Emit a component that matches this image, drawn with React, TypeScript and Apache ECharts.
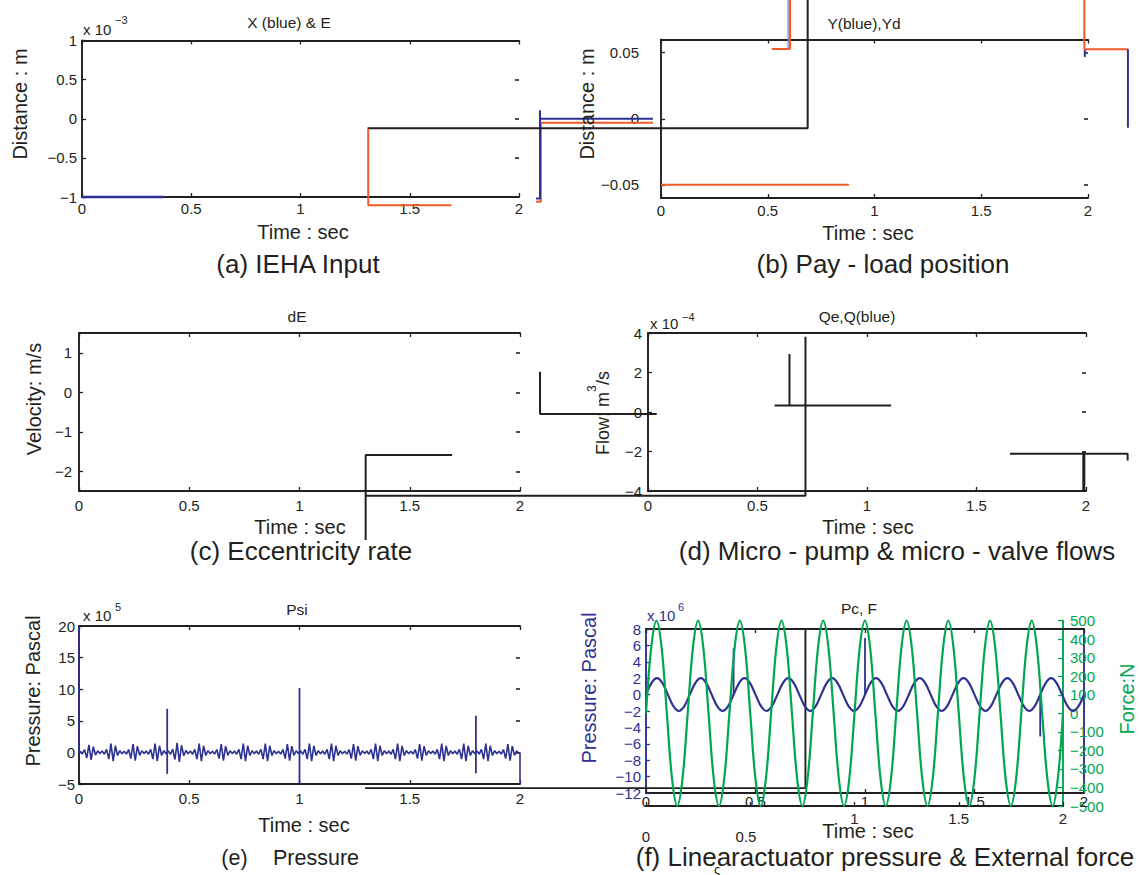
import React, { useEffect, useRef } from 'react';
import * as echarts from 'echarts';

const BLACK = '#231F20';
const BLUE = '#2E3192';
const ORANGE = '#F15A29';
const GREEN = '#00A651';
const FONT = '"Liberation Sans", Arial, Helvetica, sans-serif';

// ---------- (a) IEHA Input  (x 10^-3 m) ----------
const aBlue = [[0, -1], [0.375, -1]];
const aBlueRight = [[2.078, -1.02], [2.096, -1.02], [2.096, 0.11], [2.096, 0], [2.613, 0]];
const aOrange = [[1.31, -0.11], [1.31, -1.105], [1.69, -1.105]];
const aOrangeRight = [[2.078, -1.06], [2.1, -1.06], [2.1, -0.05], [2.613, -0.05]];

// ---------- (b) Pay-load position (m) ----------
const bBlackStep = [[-1.371, -0.0072], [0.687, -0.0072], [0.687, 0.09]];
const bOrangeTop = [[0.519, 0.0528], [0.604, 0.0528], [0.604, 0.09]];
const bBlueTop = [[0.595, 0.0528], [0.595, 0.09]];
const bOrangeLow = [[0, -0.05], [0.88, -0.05]];
const bOrangeRight = [[1.983, 0.09], [1.983, 0.0526], [2.187, 0.0526]];
const bBlueRight = [[2.187, 0.0526], [2.187, -0.0068]];
const bBlueMark = [[1.985, 0.052], [1.985, 0.0468]];
const bTicks = [-0.05, 0, 0.05];

// ---------- (c) Eccentricity rate (m/s) ----------
const cDE = [[1.3, -3.74], [1.3, -1.59], [1.692, -1.59]];
const cTicks = [-2, -1, 0, 1];

// ---------- (d) flows (x 10^-4 m^3/s) ----------
const dLong = [[-1.289, -4.24], [0.719, -4.24], [0.719, 3.81]];
const dMid = [[0.578, 0.33], [0.646, 0.33], [0.646, 2.94], [0.646, 0.33], [1.11, 0.33]];
const dLeft = [[-0.493, 2.04], [-0.493, -0.1], [0.04, -0.1]];
const dRight = [[1.653, -2.12], [2.19, -2.12], [2.19, -2.46]];
const dEnd = [[1.99, -2.0], [1.99, -4.0]];

// ---------- (e) Pressure Psi (x 10^5 Pa) ----------
const psiBurstCenters = [0.05, 0.15, 0.25, 0.35, 0.45, 0.55, 0.65, 0.75, 0.85, 0.95, 1.05, 1.15, 1.25, 1.35, 1.45, 1.55, 1.65, 1.75, 1.85, 1.95];
const psiBurstAmps = [1.2, 1.4, 1.3, 1.4, 1.5, 1.4, 1.3, 1.4, 1.4, 1.3, 1.4, 1.4, 1.3, 1.4, 1.4, 1.3, 1.4, 1.4, 1.4, 1.3];
const psiBurstOffsets = [-0.045, -0.035, -0.025, -0.015, -0.005, 0.005, 0.015, 0.025, 0.035, 0.045];
const psiBurstShape = [0.15, -0.2, 0.35, -0.75, 1, -1, 0.75, -0.35, 0.2, -0.15];
const psiStart = [[0, 20], [0, 0]];
const psiEnd = [[2, 0], [2, -5]];
const psiSpikes = [
  [[0.4, 6.9], [0.4, -3.4]],
  [[1.0, 10.2], [1.0, -5]],
  [[1.8, 5.8], [1.8, -3.3]],
];

// ---------- (f) Pc (x 10^6 Pa) & F (N) ----------
const fTime = [
  0, 0.025, 0.05, 0.075, 0.1, 0.125, 0.15, 0.175, 0.2, 0.225, 0.25, 0.275, 0.3, 0.325, 0.35, 0.375,
  0.4, 0.425, 0.45, 0.475, 0.5, 0.525, 0.55, 0.575, 0.6, 0.625, 0.65, 0.675, 0.7, 0.725, 0.75, 0.775,
  0.8, 0.825, 0.85, 0.875, 0.9, 0.925, 0.95, 0.975, 1, 1.025, 1.05, 1.075, 1.1, 1.125, 1.15, 1.175,
  1.2, 1.225, 1.25, 1.275, 1.3, 1.325, 1.35, 1.375, 1.4, 1.425, 1.45, 1.475, 1.5, 1.525, 1.55, 1.575,
  1.6, 1.625, 1.65, 1.675, 1.7, 1.725, 1.75, 1.775, 1.8, 1.825, 1.85, 1.875, 1.9, 1.925, 1.95, 1.975, 2,
];
const pcValues = [
  0, 1.41, 2, 1.41, 0, -1.41, -2, -1.41,
  0, 1.41, 2, 1.41, 0, -1.41, -2, -1.41,
  0, 1.41, 2, 1.41, 0, -1.41, -2, -1.41,
  0, 1.41, 2, 1.41, 0, -1.41, -2, -1.41,
  0, 1.41, 2, 1.41, 0, -1.41, -2, -1.41,
  0, 1.41, 2, 1.41, 0, -1.41, -2, -1.41,
  0, 1.41, 2, 1.41, 0, -1.41, -2, -1.41,
  0, 1.41, 2, 1.41, 0, -1.41, -2, -1.41,
  0, 1.41, 2, 1.41, 0, -1.41, -2, -1.41,
  0, 1.41, 2, 1.41, 0, -1.41, -2, -1.41,
  0,
];
const forceValues = [
  0, 354, 500, 354, 0, -354, -500, -354,
  0, 354, 500, 354, 0, -354, -500, -354,
  0, 354, 500, 354, 0, -354, -500, -354,
  0, 354, 500, 354, 0, -354, -500, -354,
  0, 354, 500, 354, 0, -354, -500, -354,
  0, 354, 500, 354, 0, -354, -500, -354,
  0, 354, 500, 354, 0, -354, -500, -354,
  0, 354, 500, 354, 0, -354, -500, -354,
  0, 354, 500, 354, 0, -354, -500, -354,
  0, 354, 500, 354, 0, -354, -500, -354,
  0,
];
const pcSpikes = [
  [[0.4, 0], [0.4, 5.65]],
  [[1.0, 0], [1.0, 6.9]],
  [[1.8, 0], [1.8, -5.1]],
];
const fBlack = [[-1.283, -11.4], [0.728, -11.4], [0.728, 8]];
const f2Labels = [1, 1.5, 2];

const AXW = 1.9;
const fmt = (v: number) => String(v).replace('-', '\u2212');

function bottomX(grid: number, margin: number, color = BLACK, extra: any = {}) {
  return {
    type: 'value', gridIndex: grid, min: 0, max: 2, interval: 0.5, position: 'bottom',
    axisLine: { show: true, onZero: false, lineStyle: { color, width: AXW } },
    axisTick: { show: true, inside: true, length: 4, lineStyle: { color, width: 1.3 } },
    axisLabel: { show: true, margin, fontSize: 15, fontFamily: FONT, color: BLACK, formatter: fmt, ...(extra.axisLabel || {}) },
    splitLine: { show: false },
  };
}
function topX(grid: number) {
  return {
    type: 'value', gridIndex: grid, min: 0, max: 2, interval: 0.5, position: 'top',
    axisLine: { show: true, onZero: false, lineStyle: { color: BLACK, width: AXW } },
    axisTick: { show: true, inside: true, length: 4, lineStyle: { color: BLACK, width: 1.3 } },
    axisLabel: { show: false },
    splitLine: { show: false },
  };
}
function leftY(grid: number, min: number, max: number, interval: number | null, custom: number[] | null, margin: number, color = BLACK, labelColor = BLACK, padding: any = 0) {
  const ax: any = {
    type: 'value', gridIndex: grid, min, max, position: 'left',
    axisLine: { show: true, onZero: false, lineStyle: { color, width: AXW } },
    axisTick: { show: true, inside: true, length: 4, lineStyle: { color, width: 1.3 } },
    axisLabel: { show: true, margin, fontSize: 15, fontFamily: FONT, color: labelColor, formatter: fmt, padding },
    splitLine: { show: false },
  };
  if (interval) ax.interval = interval;
  if (custom) { ax.axisTick.customValues = custom; ax.axisLabel.customValues = custom; }
  return ax;
}
function rightY(grid: number, min: number, max: number, interval: number | null, custom: number[] | null) {
  const ax: any = {
    type: 'value', gridIndex: grid, min, max, position: 'right',
    axisLine: { show: false, onZero: false },
    axisTick: { show: true, inside: true, length: 4, lineStyle: { color: BLACK, width: 1.6 } },
    axisLabel: { show: false },
    splitLine: { show: false },
  };
  if (interval) ax.interval = interval;
  if (custom) { ax.axisTick.customValues = custom; }
  return ax;
}
// hidden axes on an extended grid sharing a panel's scale (for marks drawn outside the panel)
const hidden = (grid: number, min: number, max: number) => ({
  type: 'value', gridIndex: grid, min, max, show: false, splitLine: { show: false },
});

const ln = (data: any[], color: string, xi: number, yi: number, width = 2, z = 3) => ({
  type: 'line', data, xAxisIndex: xi, yAxisIndex: yi, showSymbol: false, symbol: 'none',
  clip: false, silent: true, z, lineStyle: { color, width }, itemStyle: { color },
});

const smoothLn = (data: any[], color: string, xi: number, yi: number, width = 2.2, z = 3) => ({
  ...ln(data, color, xi, yi, width, z), smooth: 0.35,
});

const txt = (text: string, x: number, y: number, size: number, o: any = {}) => ({
  type: 'text', x, y, rotation: o.rotation || 0, z: 20, silent: true,
  style: {
    text, fontSize: size, fontFamily: FONT, fill: o.color || BLACK,
    align: o.align || 'center', verticalAlign: o.valign || 'middle',
  },
});

export default function App() {
  const ref = useRef<HTMLDivElement>(null);
  useEffect(() => {
    document.body.style.margin = '0';
    const chart = echarts.init(ref.current!, null, { renderer: 'svg' });

    const psiData: any[] = [...psiStart];
    psiBurstCenters.forEach((c, i) => {
      psiBurstOffsets.forEach((o, k) => psiData.push([c + o, psiBurstAmps[i] * psiBurstShape[k]]));
    });
    psiEnd.forEach((p) => psiData.push(p));

    const pcData = fTime.map((t, i) => [t, pcValues[i]]);
    const forceData = fTime.map((t, i) => [t, forceValues[i]]);

    const R = Math.PI / 2;
    const option: any = {
      animation: false,
      backgroundColor: '#ffffff',
      grid: [
        { left: 82, top: 40.5, width: 437, height: 156.5 },
        { left: 661, top: 39.5, width: 427, height: 158.5 },
        { left: 79, top: 333, width: 441, height: 158 },
        { left: 648, top: 333, width: 438, height: 158 },
        { left: 79, top: 626, width: 441, height: 158 },
        { left: 646, top: 629, width: 438, height: 164 },
        { left: 646, top: 620.7, width: 417, height: 185.3 },
        // extended (hidden) grids
        { left: 82, top: 40.5, width: 600.875, height: 156.5 },
        { left: 340.75, top: 39.5, width: 800.625, height: 158.5 },
        { left: 319.5, top: 333, width: 821.25, height: 158 },
        { left: 317.5, top: 629, width: 766.5, height: 164 },
      ],
      xAxis: [
        bottomX(0, 4), topX(0),
        bottomX(1, 5), topX(1),
        bottomX(2, 6.5), topX(2),
        bottomX(3, 6.5), topX(3),
        bottomX(4, 7), topX(4),
        bottomX(5, 1), topX(5),
        bottomX(6, 4.8, BLACK, { axisLabel: { customValues: f2Labels } }),
        hidden(7, 0, 2.75),
        hidden(8, -1.5, 2.25),
        hidden(9, -1.5, 2.25),
        hidden(10, -1.5, 2),
      ],
      yAxis: [
        leftY(0, -1, 1, 0.5, null, 5), rightY(0, -1, 1, 0.5, null),
        leftY(1, -0.06, 0.06, null, bTicks, 22), rightY(1, -0.06, 0.06, null, bTicks),
        leftY(2, -2.5, 1.5, null, cTicks, 7), rightY(2, -2.5, 1.5, null, cTicks),
        leftY(3, -4, 4, 2, null, 6), rightY(3, -4, 4, 2, null),
        leftY(4, -5, 20, 5, null, 4), rightY(4, -5, 20, 5, null),
        leftY(5, -12, 8, 2, null, 5, BLUE, BLUE, [0, 0, 8, 0]),
        {
          type: 'value', gridIndex: 5, min: -12, max: 8, interval: 2, position: 'right',
          axisLine: { show: true, onZero: false, lineStyle: { color: BLUE, width: AXW } },
          axisTick: { show: false }, axisLabel: { show: false }, splitLine: { show: false },
        },
        {
          type: 'value', gridIndex: 6, min: -500, max: 500, interval: 100, position: 'right',
          axisLine: { show: true, onZero: false, lineStyle: { color: GREEN, width: AXW } },
          axisTick: { show: true, inside: true, length: 5, lineStyle: { color: GREEN, width: 1.3 } },
          axisLabel: { show: true, margin: 7, fontSize: 15, fontFamily: FONT, color: GREEN, formatter: fmt, padding: [0, 0, 10, 0] },
          splitLine: { show: false },
        },
        hidden(7, -1, 1),
        hidden(8, -0.06, 0.06),
        hidden(9, -4, 4),
        hidden(10, -12, 8),
      ],
      series: [
        // (a)
        ln(aOrange, ORANGE, 0, 0),
        ln(aOrangeRight, ORANGE, 13, 13),
        ln(aBlue, BLUE, 0, 0, 2.4),
        ln(aBlueRight, BLUE, 13, 13),
        // (b)
        ln(bBlackStep, BLACK, 14, 14, 2, 4),
        ln(bBlueTop, '#7B83C4', 2, 2, 1.2),
        ln(bOrangeTop, ORANGE, 2, 2, 2.2),
        ln(bOrangeLow, ORANGE, 2, 2),
        ln(bOrangeRight, ORANGE, 14, 14),
        ln(bBlueRight, BLUE, 14, 14),
        ln(bBlueMark, BLUE, 2, 2),
        // (c)
        ln(cDE, BLACK, 4, 4),
        // (d)
        ln(dLong, BLACK, 15, 15),
        ln(dMid, BLACK, 6, 6),
        ln(dLeft, BLACK, 15, 15),
        ln(dRight, BLACK, 15, 15),
        ln(dEnd, BLACK, 6, 6, 3),
        // (e)
        ln(psiData, BLUE, 8, 8, 1.6),
        ...psiSpikes.map((s) => ln(s, BLUE, 8, 8, 1.8)),
        // (f)
        ln(fBlack, BLACK, 16, 16, 1.9, 2),
        smoothLn(pcData, BLUE, 10, 10, 2.2, 3),
        ...pcSpikes.map((s) => ln(s, BLUE, 10, 10, 1.8, 3)),
        smoothLn(forceData, GREEN, 12, 12, 2.2, 5),
      ],
      graphic: [
        // titles
        txt('X (blue) & E', 289, 22, 15.5),
        txt('Y(blue),Yd', 864, 23, 15.5),
        txt('dE', 297, 316, 15.5),
        txt('Qe,Q(blue)', 857, 316, 15.5),
        txt('Psi', 297, 609, 15.5),
        txt('Pc, F', 859, 608, 15.5),
        // multipliers
        txt('x 10', 83, 29, 15, { align: 'left' }),
        txt('\u22123', 115, 20, 11, { align: 'left' }),
        txt('x 10', 650, 323, 15, { align: 'left' }),
        txt('\u22124', 682, 317, 11, { align: 'left' }),
        txt('x 10', 83, 615, 15, { align: 'left' }),
        txt('5', 115, 607, 11, { align: 'left' }),
        txt('x 10', 647, 615, 15, { align: 'left', color: BLUE }),
        txt('6', 678, 607, 11, { align: 'left', color: BLUE }),
        // x names
        txt('Time : sec', 303, 232, 20),
        txt('Time : sec', 868, 233, 20),
        txt('Time : sec', 300, 527, 20),
        txt('Time : sec', 868, 527, 20),
        txt('Time : sec', 304, 825, 20),
        txt('Time : sec', 868, 831, 20),
        // y names
        txt('Distance : m', 20, 104, 20, { rotation: R }),
        txt('Distance : m', 587, 104, 20, { rotation: R }),
        txt('Velocity: m/s', 34, 399, 20, { rotation: R }),
        txt('Flow: m', 603, 455, 18, { rotation: R, align: 'left' }),
        txt('3', 592, 392, 12, { rotation: R, align: 'left' }),
        txt('/s', 603, 385, 18, { rotation: R, align: 'left' }),
        txt('Pressure: Pascal', 33, 691, 20, { rotation: R }),
        txt('Pressure: Pascal', 589, 688, 20, { rotation: R, color: BLUE }),
        txt('Force:N', 1127, 699, 20, { rotation: R, color: GREEN }),
        // extra f tick labels
        txt('0', 646, 836.7, 15),
        txt('0.5', 746, 836.7, 15),
        // captions
        txt('(a) IEHA Input', 298, 264, 26),
        txt('(b) Pay - load position', 883, 264, 26),
        txt('(c) Eccentricity rate', 301, 551, 26),
        txt('(d) Micro - pump & micro - valve flows', 897, 551, 26),
        txt('(e)', 234.5, 858, 21.5),
        txt('Pressure', 316, 858, 21.5),
        txt('(f) Linearactuator pressure & External force', 885, 857, 26),
        txt('\u03C2', 717, 869, 13),
      ],
    };
    chart.setOption(option);
    return () => chart.dispose();
  }, []);
  return <div ref={ref} style={{ width: 1144, height: 875 }} />;
}
